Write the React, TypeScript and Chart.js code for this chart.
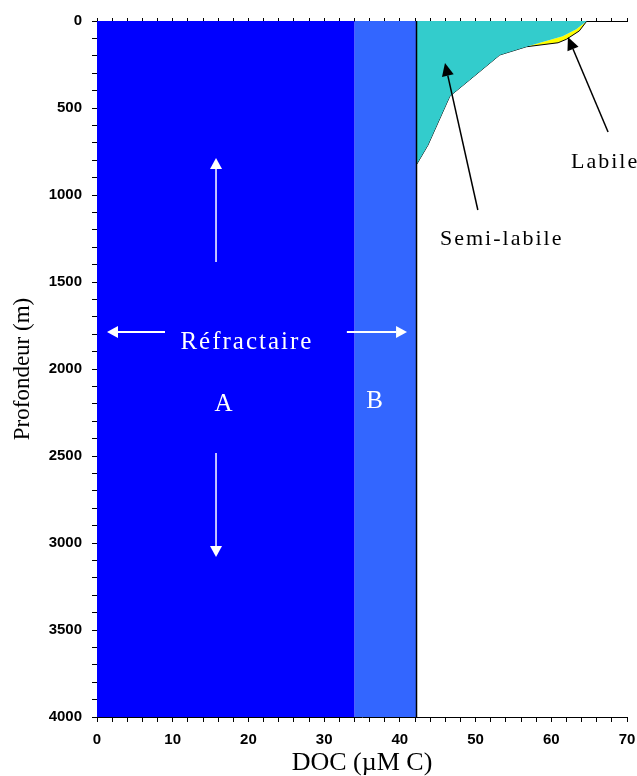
import React, { useEffect, useRef } from 'react';
import { Chart, registerables } from 'chart.js';
Chart.register(...registerables);

// Axis ranges
const DOC_MIN = 0;
const DOC_MAX = 70;
const DEPTH_MIN = 0;
const DEPTH_MAX = 4000;

// Refractory pools (constant with depth)
const refractoryADepths = [0, 4000];
const refractoryADoc = [34, 34];
const refractoryBDepths = [0, 4000];
const refractoryBDoc = [42.2, 42.2];

// Semi-labile upper boundary (refractory + semi-labile)
const semiDepths = [0, 48, 87, 125, 148, 195, 339, 432, 714, 825, 4000];
const semiDoc = [64.7, 63.3, 61.5, 58.5, 56.7, 53.2, 49.2, 46.6, 43.7, 42.2, 42.2];

// Total DOC (adds labile pool)
const totalDepths = [0, 57, 105, 125, 148, 195, 339, 432, 714, 825, 4000];
const totalDoc = [64.7, 63.7, 62.0, 60.9, 56.7, 53.2, 49.2, 46.6, 43.7, 42.2, 42.2];

// Annotation arrows, in data coordinates [doc, depth]
const whiteArrows = [
  { from: [8.98, 1787], to: [1.32, 1787], lw: 2 },
  { from: [33.0, 1787], to: [40.95, 1787], lw: 2 },
  { from: [15.72, 1385], to: [15.72, 787], lw: 1.5 },
  { from: [15.72, 2483], to: [15.72, 3080], lw: 1.5 },
];
const blackArrows = [
  { from: [50.3, 1086], to: [45.96, 241], lw: 1.5 },
  { from: [67.5, 638], to: [62.2, 92], lw: 1.5 },
];

// Text annotations
const annotationTexts = [
  { text: 'Réfractaire', doc: 19.8, depth: 1885, color: '#ffffff', align: 'center', size: 25, spacing: 2 },
  { text: 'A', doc: 16.7, depth: 2240, color: '#ffffff', align: 'center', size: 25, spacing: 0 },
  { text: 'B', doc: 36.65, depth: 2225, color: '#ffffff', align: 'center', size: 25, spacing: 0 },
  { text: 'Labile', doc: 62.6, depth: 843, color: '#000000', align: 'left', size: 22, spacing: 2 },
  { text: 'Semi-labile', doc: 45.3, depth: 1287, color: '#000000', align: 'left', size: 22, spacing: 2 },
];

const toPoints = (docs: number[], depths: number[]) =>
  docs.map((d, i) => ({ x: d, y: depths[i] }));

function drawArrow(ctx: CanvasRenderingContext2D, x1: number, y1: number, x2: number, y2: number,
  color: string, lw: number, headLen: number, headHalf: number) {
  const ang = Math.atan2(y2 - y1, x2 - x1);
  const bx = x2 - headLen * Math.cos(ang);
  const by = y2 - headLen * Math.sin(ang);
  ctx.strokeStyle = color;
  ctx.fillStyle = color;
  ctx.lineWidth = lw;
  ctx.beginPath();
  ctx.moveTo(x1, y1);
  ctx.lineTo(bx, by);
  ctx.stroke();
  ctx.beginPath();
  ctx.moveTo(x2, y2);
  ctx.lineTo(bx + headHalf * Math.sin(ang), by - headHalf * Math.cos(ang));
  ctx.lineTo(bx - headHalf * Math.sin(ang), by + headHalf * Math.cos(ang));
  ctx.closePath();
  ctx.fill();
}

const annotationPlugin = {
  id: 'annotations',
  afterDraw(chart: any) {
    const { ctx, scales } = chart;
    const xs = scales.x;
    const ys = scales.y;
    const px = (v: number) => xs.getPixelForValue(v);
    const py = (v: number) => ys.getPixelForValue(v);
    ctx.save();
    whiteArrows.forEach((a) =>
      drawArrow(ctx, px(a.from[0]), py(a.from[1]), px(a.to[0]), py(a.to[1]), '#ffffff', a.lw, 11, 6));
    blackArrows.forEach((a) =>
      drawArrow(ctx, px(a.from[0]), py(a.from[1]), px(a.to[0]), py(a.to[1]), '#000000', a.lw, 13, 6));
    annotationTexts.forEach((t) => {
      ctx.font = `${t.size}px "Liberation Serif"`;
      (ctx as any).letterSpacing = `${t.spacing}px`;
      ctx.fillStyle = t.color;
      ctx.textAlign = t.align as CanvasTextAlign;
      ctx.textBaseline = 'alphabetic';
      ctx.fillText(t.text, px(t.doc), py(t.depth));
    });
    ctx.restore();
  },
};

const tickFont = { family: '"Liberation Sans", Arial', size: 15, weight: 'bold' as const };

export default function App() {
  const ref = useRef<HTMLCanvasElement>(null);
  useEffect(() => {
    const chart = new Chart(ref.current as HTMLCanvasElement, {
      type: 'line',
      data: {
        datasets: [
          {
            label: 'Réfractaire A',
            data: toPoints(refractoryADoc, refractoryADepths),
            fill: 'origin',
            backgroundColor: '#0000ff',
            borderWidth: 0,
            pointRadius: 0,
          },
          {
            label: 'Réfractaire B',
            data: toPoints(refractoryBDoc, refractoryBDepths),
            fill: '-1',
            backgroundColor: '#3366ff',
            borderColor: '#000000',
            borderWidth: 1.5,
            pointRadius: 0,
          },
          {
            label: 'Semi-labile',
            data: toPoints(semiDoc, semiDepths),
            fill: '-1',
            backgroundColor: '#33cccc',
            borderColor: '#000000',
            borderWidth: 0,
            pointRadius: 0,
          },
          {
            label: 'Labile',
            data: toPoints(totalDoc, totalDepths),
            fill: '-1',
            backgroundColor: '#ffff00',
            borderColor: '#000000',
            borderWidth: 1,
            pointRadius: 0,
          },
        ],
      },
      options: {
        indexAxis: 'y',
        responsive: false,
        animation: false,
        devicePixelRatio: 1,
        layout: { padding: { left: 0, right: 10, top: 0, bottom: 0 } },
        plugins: { legend: { display: false }, tooltip: { enabled: false } },
        scales: {
          x: {
            type: 'linear',
            position: 'bottom',
            min: DOC_MIN,
            max: DOC_MAX,
            afterFit: (s: any) => { s.height = 59; s.paddingLeft = 0; s.paddingRight = 0; },
            ticks: {
              stepSize: 2,
              autoSkip: false,
              maxRotation: 0,
              padding: 9,
              color: '#000',
              font: tickFont,
              callback: (v: any) => (Number(v) % 10 === 0 ? String(v) : ''),
            },
            grid: { display: true, drawOnChartArea: false, drawTicks: true, tickLength: 5, color: '#000' },
            border: { display: true, color: '#000', width: 1 },
            title: {
              display: true,
              text: 'DOC (µM C)',
              color: '#000',
              font: { family: '"Liberation Serif"', size: 26, lineHeight: 1 },
              padding: { top: 0, bottom: 0 },
            },
          },
          xTop: {
            type: 'linear',
            axis: 'x',
            position: 'top',
            min: DOC_MIN,
            max: DOC_MAX,
            afterFit: (s: any) => { s.height = 21; s.paddingLeft = 0; s.paddingRight = 0; },
            ticks: { stepSize: 2, autoSkip: false, display: false },
            grid: { display: true, drawOnChartArea: false, drawTicks: true, tickLength: 3, color: '#000' },
            border: { display: true, color: '#000', width: 1 },
          },
          y: {
            type: 'linear',
            position: 'left',
            reverse: true,
            min: DEPTH_MIN,
            max: DEPTH_MAX,
            afterFit: (s: any) => { s.width = 97; },
            ticks: {
              stepSize: 100,
              autoSkip: false,
              padding: 10,
              color: '#000',
              font: tickFont,
              callback: (v: any) => (Number(v) % 500 === 0 ? String(v) : ''),
            },
            grid: { display: true, drawOnChartArea: false, drawTicks: true, tickLength: 5, color: '#000' },
            border: { display: true, color: '#000', width: 1 },
            title: {
              display: true,
              text: 'Profondeur (m)',
              color: '#000',
              font: { family: '"Liberation Serif"', size: 23, lineHeight: 1 },
              padding: { top: 11, bottom: 0 },
            },
          },
        },
      } as any,
      plugins: [annotationPlugin],
    });
    return () => chart.destroy();
  }, []);
  return (
    <div style={{ position: 'fixed', left: 0, top: 0, width: 637, height: 776, background: '#fff' }}>
      <canvas ref={ref} width={637} height={776} style={{ display: 'block', width: 637, height: 776 }} />
    </div>
  );
}
